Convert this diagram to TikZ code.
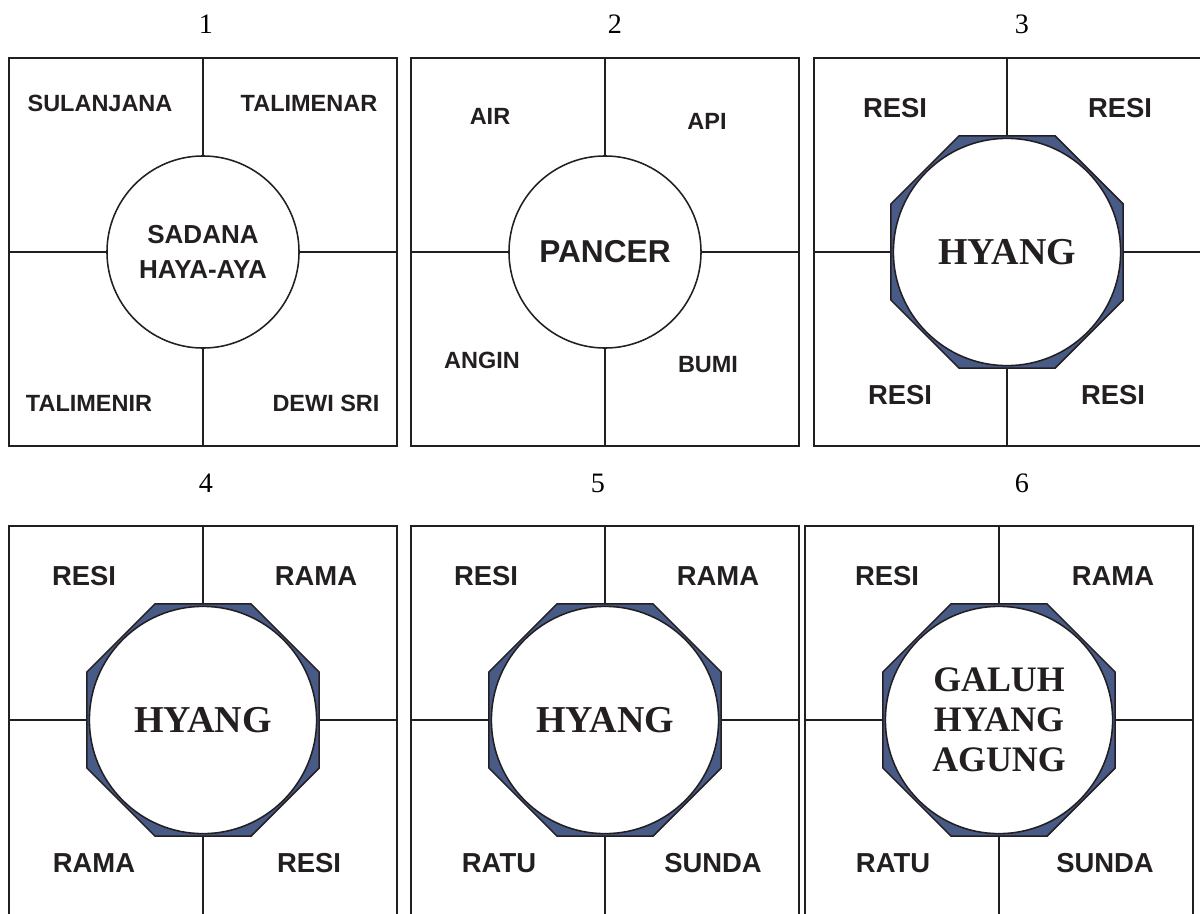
\documentclass[tikz,border=0pt]{standalone}
\usepackage{fontspec}
\setmainfont{Liberation Serif}
\newfontfamily\arialfont{Liberation Sans}
\usepackage{tikz}
\usetikzlibrary{shapes.geometric}
\definecolor{ringblue}{HTML}{485A86}
\definecolor{inkline}{HTML}{231F20}

\tikzset{
  panel/.style={minimum width=9.7cm, minimum height=9.7cm, inner sep=0pt, outer sep=0pt},
  rule/.style={draw=inkline, line width=1.3pt},
  hub/.style={circle, draw=inkline, fill=white, line width=1.1pt, minimum size=4.8cm,
    inner sep=0pt, outer sep=0pt, align=center},
  bighub/.style={hub, minimum size=5.68cm},
  ring/.style={regular polygon, regular polygon sides=8, draw=inkline, fill=ringblue,
    line width=1.1pt, minimum size=6.28cm, inner sep=0pt, outer sep=0pt},
  num/.style={font=\fontsize{20}{24}\selectfont, text=black},
  smalllbl/.style={font=\arialfont\bfseries\fontsize{16.7}{20}\selectfont, text=inkline},
  lbl/.style={font=\arialfont\bfseries\fontsize{19.5}{23}\selectfont, text=inkline},
  sanshub/.style={font=\arialfont\bfseries\fontsize{18.5}{24.9}\selectfont, text=inkline},
  serifhub/.style={font=\bfseries\fontsize{27}{30}\selectfont, text=inkline},
  tallhub/.style={font=\bfseries\fontsize{25.5}{28.5}\selectfont, text=inkline},
}

\begin{document}
\begin{tikzpicture}[x=0.025cm, y=-0.025cm]
  \useasboundingbox (0,0) rectangle (1200,913);

  % Panel numbers
  \node[num] (num1) at (206,24) {1};
  \node[num] (num2) at (615,24) {2};
  \node[num] (num3) at (1022,24) {3};
  \node[num] (num4) at (206,483) {4};
  \node[num] (num5) at (598,483) {5};
  \node[num] (num6) at (1022,483) {6};

  % Panel 1
  \node[panel, rule] (boxA) at (203,252) {};
  \node[hub, sanshub] (hubA) at (203,252) {SADANA\\HAYA-AYA};
  \draw[rule] (boxA.north) -- (hubA.north);
  \draw[rule] (boxA.south) -- (hubA.south);
  \draw[rule] (boxA.west) -- (hubA.west);
  \draw[rule] (boxA.east) -- (hubA.east);
  \node[smalllbl] (sulanjana) at (100,103) {SULANJANA};
  \node[smalllbl] (talimenar) at (309,103) {TALIMENAR};
  \node[smalllbl] (talimenir) at (89,403) {TALIMENIR};
  \node[smalllbl] (dewisri) at (326,403) {DEWI SRI};

  % Panel 2
  \node[panel, rule] (boxB) at (605,252) {};
  \node[hub, sanshub, font=\arialfont\bfseries\fontsize{22.5}{26}\selectfont] (hubB) at (605,252) {PANCER};
  \draw[rule] (boxB.north) -- (hubB.north);
  \draw[rule] (boxB.south) -- (hubB.south);
  \draw[rule] (boxB.west) -- (hubB.west);
  \draw[rule] (boxB.east) -- (hubB.east);
  \node[smalllbl] (air) at (490,116) {AIR};
  \node[smalllbl] (api) at (707,121) {API};
  \node[smalllbl] (angin) at (482,360) {ANGIN};
  \node[smalllbl] (bumi) at (708,365) {BUMI};

  % Panel 3 (open on the right)
  \node[panel] (boxC) at (1008,252) {};
  \draw[rule] (boxC.north east) -- (boxC.north west) -- (boxC.south west) -- (boxC.south east);
  \node[ring] (ringC) at (1007,252) {};
  \node[bighub, serifhub] (hubC) at (1007,252) {HYANG};
  \draw[rule] (boxC.north -| ringC.north) -- (ringC.north);
  \draw[rule] (boxC.south -| ringC.south) -- (ringC.south);
  \draw[rule] (boxC.west) -- (ringC.west);
  \draw[rule] (boxC.east) -- (ringC.east);
  \node[lbl] (resiCa) at (895,108) {RESI};
  \node[lbl] (resiCb) at (1120,108) {RESI};
  \node[lbl] (resiCc) at (900,395) {RESI};
  \node[lbl] (resiCd) at (1113,395) {RESI};

  % Panel 4 (open at the bottom)
  \node[panel] (boxD) at (203,720) {};
  \draw[rule] (boxD.south west) -- (boxD.north west) -- (boxD.north east) -- (boxD.south east);
  \node[ring] (ringD) at (203,720) {};
  \node[bighub, serifhub] (hubD) at (203,720) {HYANG};
  \draw[rule] (boxD.north) -- (ringD.north);
  \draw[rule] (boxD.south) -- (ringD.south);
  \draw[rule] (boxD.west) -- (ringD.west);
  \draw[rule] (boxD.east) -- (ringD.east);
  \node[lbl] (resiDa) at (84,576) {RESI};
  \node[lbl] (ramaDa) at (316,576) {RAMA};
  \node[lbl] (ramaDb) at (94,863) {RAMA};
  \node[lbl] (resiDb) at (309,863) {RESI};

  % Panel 5 (open at the bottom)
  \node[panel] (boxE) at (605,720) {};
  \draw[rule] (boxE.south west) -- (boxE.north west) -- (boxE.north east) -- (boxE.south east);
  \node[ring] (ringE) at (605,720) {};
  \node[bighub, serifhub] (hubE) at (605,720) {HYANG};
  \draw[rule] (boxE.north) -- (ringE.north);
  \draw[rule] (boxE.south) -- (ringE.south);
  \draw[rule] (boxE.west) -- (ringE.west);
  \draw[rule] (boxE.east) -- (ringE.east);
  \node[lbl] (resiE) at (486,576) {RESI};
  \node[lbl] (ramaE) at (718,576) {RAMA};
  \node[lbl] (ratuE) at (499,863) {RATU};
  \node[lbl] (sundaE) at (713,863) {SUNDA};

  % Panel 6 (open at the bottom)
  \node[panel] (boxF) at (999,720) {};
  \draw[rule] (boxF.south west) -- (boxF.north west) -- (boxF.north east) -- (boxF.south east);
  \node[ring] (ringF) at (999,720) {};
  \node[bighub, tallhub] (hubF) at (999,720) {GALUH\\HYANG\\AGUNG};
  \draw[rule] (boxF.north) -- (ringF.north);
  \draw[rule] (boxF.south) -- (ringF.south);
  \draw[rule] (boxF.west) -- (ringF.west);
  \draw[rule] (boxF.east) -- (ringF.east);
  \node[lbl] (resiF) at (887,576) {RESI};
  \node[lbl] (ramaF) at (1113,576) {RAMA};
  \node[lbl] (ratuF) at (893,863) {RATU};
  \node[lbl] (sundaF) at (1105,863) {SUNDA};
\end{tikzpicture}
\end{document}
